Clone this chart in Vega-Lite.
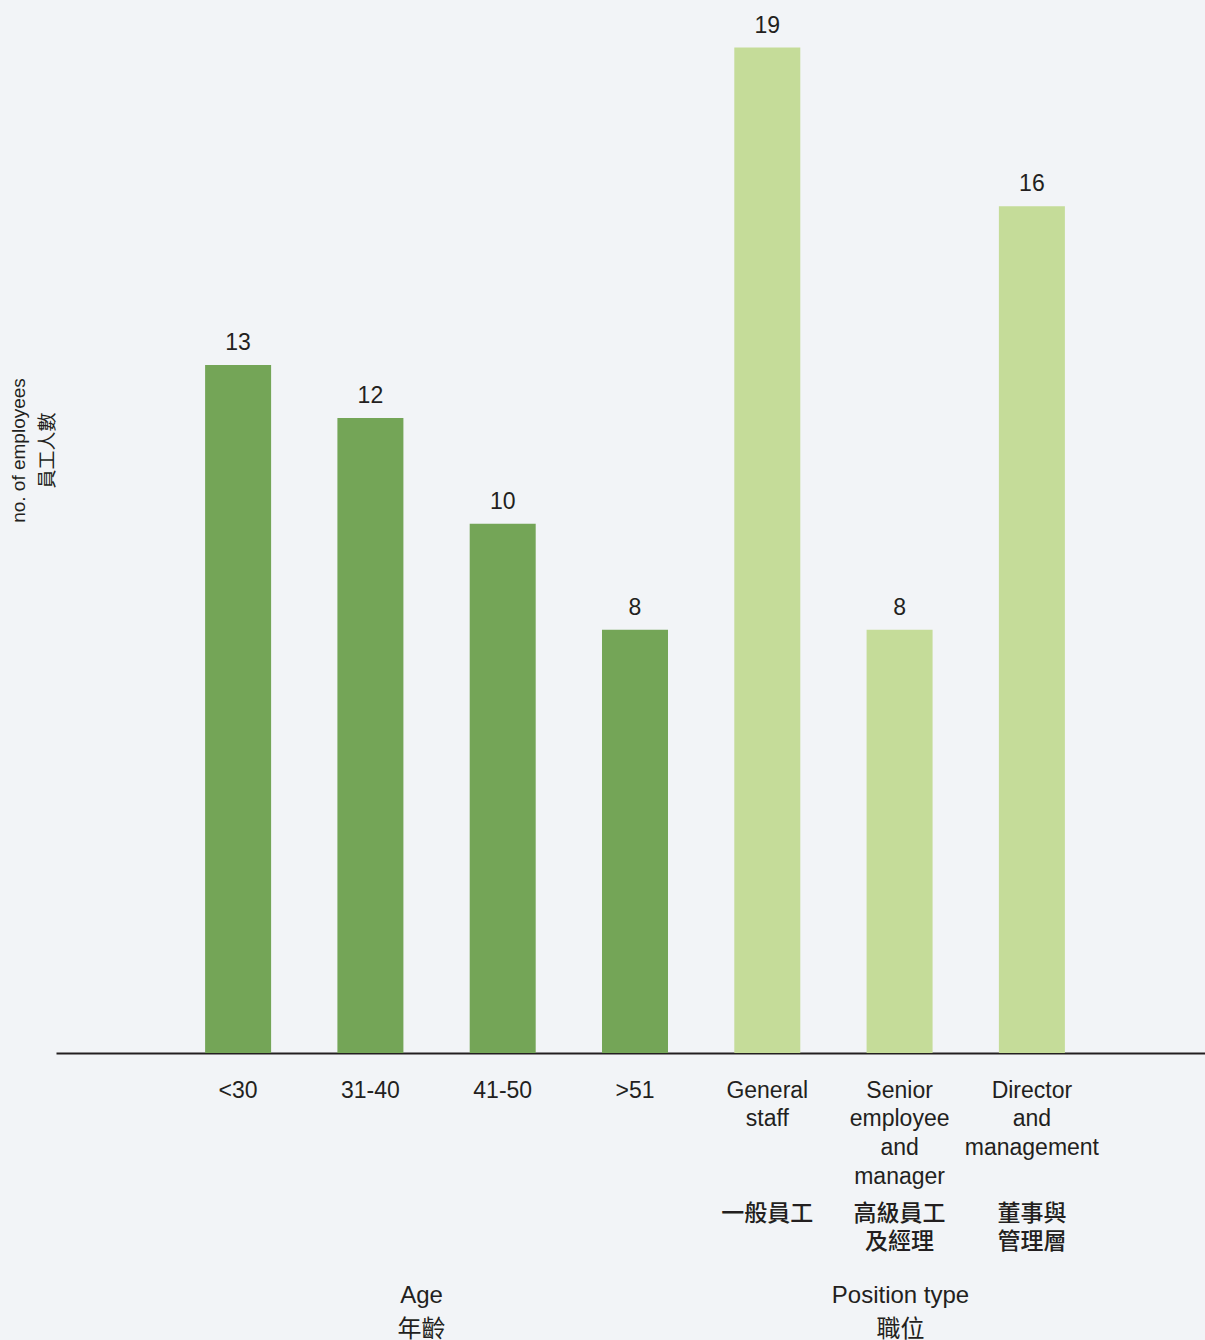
{
  "$schema": "https://vega.github.io/schema/vega-lite/v6.json",
  "width": 1149,
  "height": 1053,
  "autosize": {"type": "none"},
  "padding": {"left": 56, "top": 0, "right": 0, "bottom": 287},
  "background": "#f2f4f7",
  "config": {
    "view": {"stroke": null},
    "font": "Liberation Sans, Noto Sans CJK TC, sans-serif"
  },
  "data": {
    "values": [
      {"category": "<30", "group": "Age", "count": 13},
      {"category": "31-40", "group": "Age", "count": 12},
      {"category": "41-50", "group": "Age", "count": 10},
      {"category": ">51", "group": "Age", "count": 8},
      {"category": "General staff", "group": "Position type", "count": 19},
      {"category": "Senior employee and manager", "group": "Position type", "count": 8},
      {"category": "Director and management", "group": "Position type", "count": 16}
    ]
  },
  "encoding": {
    "y": {
      "field": "count",
      "type": "quantitative",
      "scale": {"domain": [0, 19.9], "nice": false},
      "axis": {
        "domain": false,
        "ticks": false,
        "labels": false,
        "grid": false,
        "title": ["no. of employees", "員工人數"],
        "titleFontSize": 19,
        "titleFontWeight": "normal",
        "titleColor": "#231f20",
        "titleLineHeight": 29,
        "titleBaseline": "middle",
        "titleAngle": -90,
        "titleX": -38,
        "titleY": 450
      }
    }
  },
  "resolve": {"axis": {"x": "independent"}},
  "layer": [
    {
      "mark": {"type": "bar", "width": 66},
      "encoding": {
        "x": {
          "field": "category",
          "type": "nominal",
          "sort": null,
          "scale": {"paddingInner": 0.315, "paddingOuter": 1, "align": 0.517},
          "axis": {
            "orient": "bottom",
            "domain": true,
            "domainColor": "#231f20",
            "domainWidth": 2,
            "ticks": false,
            "labelAngle": 0,
            "labelFontSize": 23,
            "labelColor": "#231f20",
            "labelLineHeight": 28.7,
            "labelPadding": 26,
            "labelLimit": 0,
            "labelOverlap": false,
            "labelFlush": false,
            "labelBound": false,
            "labelExpr": "split(datum.label, ' ')",
            "title": ["Age", "年齡"],
            "titleFontSize": 24,
            "titleFontWeight": "normal",
            "titleColor": "#231f20",
            "titleLineHeight": 34,
            "titleBaseline": "middle",
            "titleX": 365,
            "titleY": 242
          }
        },
        "color": {
          "field": "group",
          "type": "nominal",
          "scale": {"domain": ["Age", "Position type"], "range": ["#74a557", "#c5dc99"]},
          "legend": null
        }
      }
    },
    {
      "mark": {"type": "text", "fontSize": 23, "color": "#231f20", "baseline": "alphabetic", "dy": -15},
      "encoding": {
        "x": {
          "field": "category",
          "type": "nominal",
          "sort": null,
          "scale": {"paddingInner": 0.315, "paddingOuter": 1, "align": 0.517},
          "axis": null
        },
        "text": {"field": "count", "type": "quantitative"}
      }
    },
    {
      "mark": {"type": "bar", "opacity": 0, "width": 66},
      "encoding": {
        "x": {
          "field": "category",
          "type": "nominal",
          "sort": null,
          "scale": {"paddingInner": 0.315, "paddingOuter": 1, "align": 0.517},
          "axis": {
            "orient": "bottom",
            "domain": false,
            "ticks": false,
            "labelAngle": 0,
            "labelFontSize": 23,
            "labelFontWeight": 500,
            "labelColor": "#231f20",
            "labelLineHeight": 28,
            "labelPadding": 149,
            "labelLimit": 0,
            "labelOverlap": false,
            "labelFlush": false,
            "labelBound": false,
            "labelExpr": "datum.label == 'General staff' ? '一般員工' : datum.label == 'Senior employee and manager' ? ['高級員工', '及經理'] : datum.label == 'Director and management' ? ['董事與', '管理層'] : ''",
            "title": ["Position type", "職位"],
            "titleFontSize": 24,
            "titleFontWeight": "normal",
            "titleColor": "#231f20",
            "titleLineHeight": 34,
            "titleBaseline": "middle",
            "titleX": 844,
            "titleY": 242
          }
        }
      }
    }
  ]
}
